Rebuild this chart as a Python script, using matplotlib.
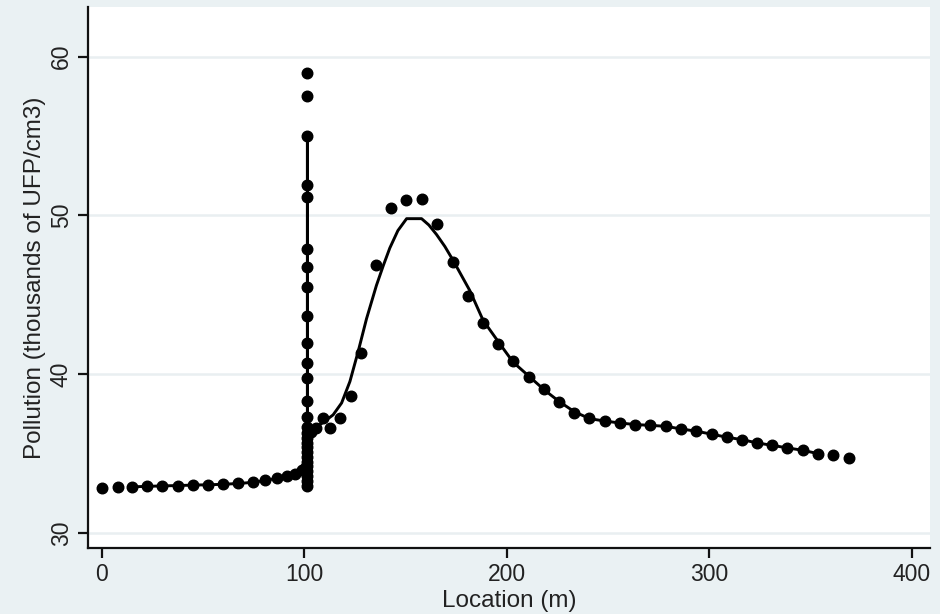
import matplotlib
matplotlib.use("Agg")
import matplotlib.pyplot as plt

# ---- data ----
# approach segment (before the stop)
approach_x = [0, 7.7, 14.6, 22.5, 29.9, 37.4, 45.1, 52.5, 59.9, 67.3, 74.4, 80.5, 86.3, 91.2, 95.3, 98.6, 100.2]
approach_y = [32.85, 32.88, 32.92, 32.95, 32.98, 33.0, 33.03, 33.05, 33.08, 33.13, 33.2, 33.32, 33.45, 33.58, 33.75, 33.95, 34.1]

# readings taken while stopped at ~101 m
stop_x = [101.5] * 27
stop_y = [59.0, 57.55, 55.0, 51.9, 51.15, 47.9, 46.75, 45.5, 43.7, 42.0, 40.7, 39.8, 38.35,
          37.3, 36.7, 36.3, 36.0, 35.7, 35.4, 35.1, 34.8, 34.5, 34.2, 33.9, 33.6, 33.3, 33.0]

# departure segment (after the stop)
depart_x = [103.5, 105.5, 109.2, 112.8, 117.5, 122.8, 128.2, 135.6, 143.0, 150.4, 158.2, 165.3, 173.2,
            180.9, 188.0, 195.7, 203.1, 210.9, 218.4, 225.8, 233.2, 240.8, 248.4, 255.8, 263.5,
            270.9, 278.5, 286.3, 293.7, 301.4, 308.8, 316.2, 323.8, 331.2, 338.6, 346.3, 353.7,
            361.1, 368.9]
depart_y = [36.4, 36.6, 37.23, 36.6, 37.28, 38.63, 41.33, 46.86, 50.49, 50.99, 51.01, 49.48, 47.07,
            44.93, 43.23, 41.93, 40.82, 39.83, 39.06, 38.26, 37.57, 37.25, 37.06, 36.94, 36.84,
            36.79, 36.73, 36.56, 36.42, 36.23, 36.04, 35.89, 35.68, 35.53, 35.37, 35.22, 35.01,
            34.9, 34.76]

# smoothed (fitted) line
fit_x = [14.6, 22.5, 29.9, 37.4, 45.1, 52.5, 59.9, 67.3, 74.4, 80.5, 86.3, 91.2, 95.3, 98.6, 101.5,
         101.5, 101.5, 104.3, 109.0, 114.2, 118.4, 122.5, 126.6, 130.7, 135.6, 139.0, 142.2, 146.2,
         150.5, 157.9, 161.5, 165.3, 169.4, 173.5, 181.7, 188.3, 196.5, 203.1, 211.4, 218.8, 226.2,
         233.6, 241.0, 248.4, 255.8, 263.5, 270.9, 278.5, 286.3, 293.7, 301.4, 308.8, 316.2,
         323.8, 331.2, 338.6, 346.3, 353.7]
fit_y = [32.92, 32.95, 32.98, 33.0, 33.03, 33.05, 33.08, 33.13, 33.2, 33.32, 33.45, 33.58, 33.75,
         33.95, 34.3, 55.0, 36.4, 36.58, 36.95, 37.45, 38.2, 39.55, 41.45, 43.5, 45.6, 46.85,
         47.95, 49.05, 49.8, 49.8, 49.4, 48.8, 48.05, 47.17, 45.28, 43.4, 41.93, 40.77, 39.83,
         38.99, 38.26, 37.63, 37.21, 37.06, 36.94, 36.84, 36.79, 36.73, 36.56, 36.42, 36.23,
         36.04, 35.89, 35.68, 35.53, 35.37, 35.22, 35.01]

x_ticks = [0, 100, 200, 300, 400]
y_ticks = [30, 40, 50, 60]
x_label = "Location (m)"
y_label = "Pollution (thousands of UFP/cm3)"

# ---- drawing ----
plt.rcParams['font.family'] = ['Liberation Sans', 'DejaVu Sans']
BG = "#eaf1f3"

fig = plt.figure(figsize=(9.40, 6.14), dpi=100, facecolor=BG)
ax = fig.add_axes([0.0936, 0.1075, 0.8954, 0.8805])
ax.set_facecolor("white")

ax.plot(fit_x, fit_y, color="black", lw=2.1, zorder=3, solid_joinstyle="round")
dot_kw = dict(ls="none", marker="o", ms=7.6, color="black", mec="black", zorder=4)
ax.plot(approach_x, approach_y, **dot_kw)
ax.plot(stop_x, stop_y, **dot_kw)
ax.plot(depart_x, depart_y, **dot_kw)

ax.set_xlim(-6.9, 408.9)
ax.set_ylim(29.07, 63.1)
ax.set_xticks(x_ticks)
ax.set_yticks(y_ticks)
ax.set_yticklabels([str(v) for v in y_ticks], rotation=90, va="center")
ax.yaxis.grid(True, color="#e9eff1", lw=1.8)
ax.set_axisbelow(True)

for s in ["top", "right"]:
    ax.spines[s].set_visible(False)
for s in ["left", "bottom"]:
    ax.spines[s].set_color("#111111")
    ax.spines[s].set_linewidth(1.6)

ax.tick_params(axis="both", direction="out", length=7, width=1.6, color="#111111",
               labelsize=16.5, labelcolor="#222222", pad=4)
ax.set_xlabel(x_label, fontsize=17.5, color="#222222", labelpad=3)
ax.set_ylabel(y_label, fontsize=17.5, color="#222222", labelpad=3)

fig.savefig("out.png", dpi=100, facecolor=BG)
